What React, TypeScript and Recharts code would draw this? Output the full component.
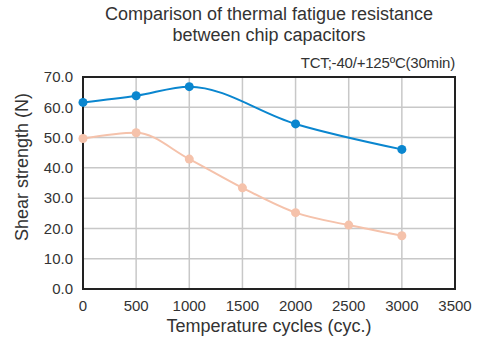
import { LineChart, Line, XAxis, YAxis, CartesianGrid, ReferenceArea } from "recharts";

const cycles = [0, 500, 1000, 1500, 2000, 2500, 3000];
const blueCycles = [0, 500, 1000, 2000, 3000];
const blueValues = [61.6, 63.8, 66.8, 54.5, 46.1];
const pinkValues = [49.7, 51.6, 42.9, 33.4, 25.2, 21.1, 17.6];
const xTicks = [0, 500, 1000, 1500, 2000, 2500, 3000, 3500];
const yTicks = [0, 10, 20, 30, 40, 50, 60, 70];

const blueData = blueCycles.map((c, i) => ({ cycle: c, value: blueValues[i] }));
const pinkData = cycles.map((c, i) => ({ cycle: c, value: pinkValues[i] }));

const font = "'Liberation Sans', Arial, sans-serif";

export default function App() {
  return (
    <div style={{ position: "absolute", left: 0, top: 0, width: 488, height: 342, fontFamily: font, color: "#333" }}>
      <div style={{ position: "absolute", left: 0, width: 538, top: 4, textAlign: "center", fontSize: 18, lineHeight: "21px" }}>
        Comparison of thermal fatigue resistance
        <br />
        between chip capacitors
      </div>
      <div style={{ position: "absolute", right: 33, top: 54, fontSize: 15, letterSpacing: -0.2 }}>
        TCT;-40/+125ºC(30min)
      </div>
      <div
        style={{
          position: "absolute",
          left: 22,
          top: 167,
          transform: "translate(-50%, -50%) rotate(-90deg)",
          fontSize: 18,
          whiteSpace: "nowrap",
        }}
      >
        Shear strength (N)
      </div>
      <div style={{ position: "absolute", left: 0, width: 538, top: 316, textAlign: "center", fontSize: 18 }}>
        Temperature cycles (cyc.)
      </div>
      <LineChart width={488} height={342} margin={{ top: 77, right: 33, bottom: 8, left: 33 }}>
        <CartesianGrid stroke="#c8c8c8" strokeWidth={1.5} />
        <XAxis
          dataKey="cycle"
          type="number"
          domain={[0, 3500]}
          ticks={xTicks}
          allowDuplicatedCategory={false}
          tickLine={false}
          axisLine={false}
          tickMargin={5}
          height={45}
          tick={{ fontSize: 15, fill: "#333", fontFamily: font }}
        />
        <YAxis
          type="number"
          domain={[0, 70]}
          ticks={yTicks}
          tickFormatter={(v: number) => v.toFixed(1)}
          tickLine={false}
          axisLine={false}
          tickMargin={4}
          width={50}
          tick={{ fontSize: 15, fill: "#333", fontFamily: font }}
        />
        <ReferenceArea x1={0} x2={3500} y1={0} y2={70} fill="none" stroke="#222" strokeWidth={2} ifOverflow="visible" />
        <Line
          data={pinkData}
          dataKey="value"
          type="monotone"
          stroke="#f5c2ab"
          strokeWidth={2}
          dot={{ r: 4.5, fill: "#f5c2ab", stroke: "none" }}
          isAnimationActive={false}
        />
        <Line
          data={blueData}
          dataKey="value"
          type="monotone"
          stroke="#0a86cf"
          strokeWidth={2}
          dot={{ r: 4.5, fill: "#0a86cf", stroke: "none" }}
          isAnimationActive={false}
        />
      </LineChart>
    </div>
  );
}
